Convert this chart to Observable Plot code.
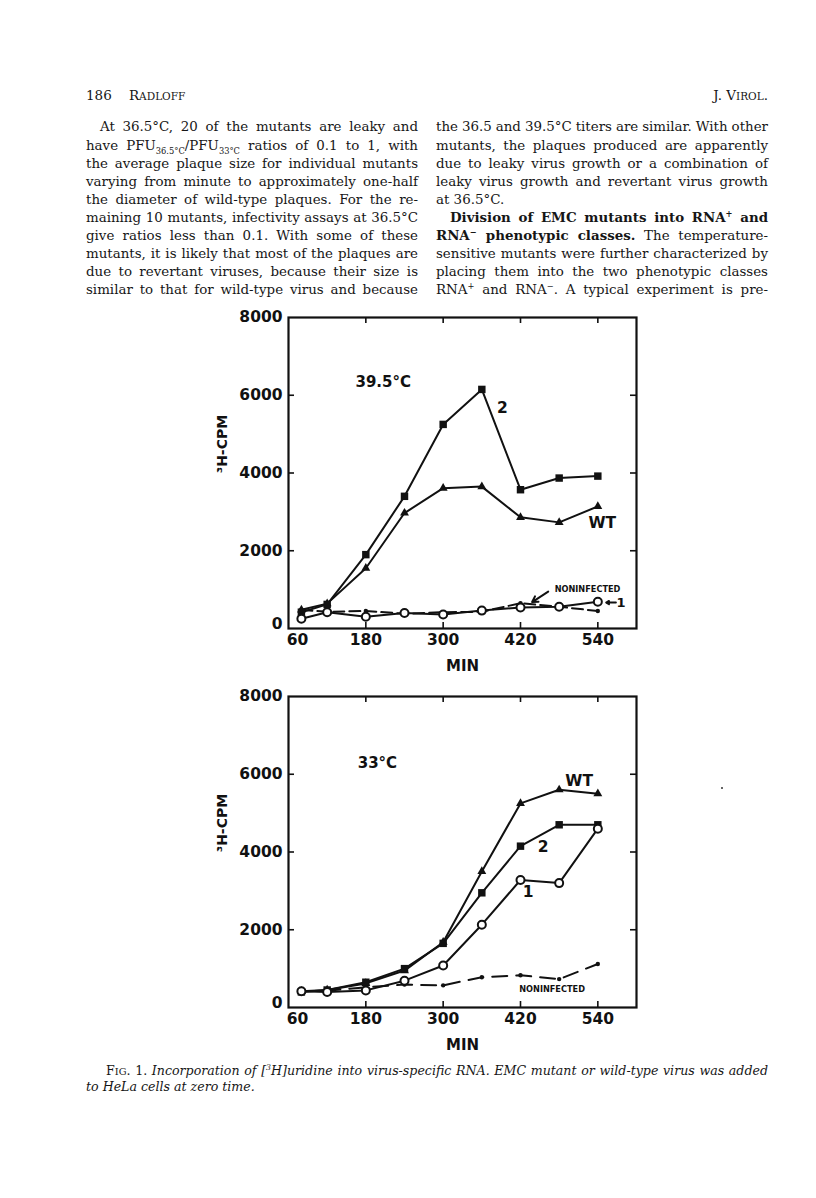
<!DOCTYPE html>
<html><head><meta charset="utf-8">
<script src="https://cdn.jsdelivr.net/npm/d3@7"></script>
<script src="https://cdn.jsdelivr.net/npm/@observablehq/plot@0.6"></script>
<style>
body{margin:0;background:#fff;}
#page{position:relative;width:816px;height:1198px;overflow:hidden;font-family:"DejaVu Serif",serif;color:#161616;}
.ln{position:absolute;white-space:nowrap;line-height:1;}
.ln sub,.ln sup{font-size:62%;line-height:0;}
.sc{font-size:78%;}
.chart{position:absolute;}
</style></head><body><div id="page"></div>
<script>
// ---------- data ----------
const times = [80, 120, 180, 240, 300, 360, 420, 480, 540];
const xTicks = [60, 180, 300, 420, 540];
const yTicks = [0, 2000, 4000, 6000, 8000];
const innerXTicks = [180, 300, 420, 540];
const innerYTicks = [2000, 4000, 6000];

// 39.5 °C panel
const hot_m2  = [420, 620, 1900, 3400, 5250, 6150, 3570, 3870, 3920];
const hot_wt  = [480, 640, 1550, 2970, 3610, 3650, 2860, 2730, 3140];
const hot_m1  = [250, 420, 300, 400, 360, 460, 540, 560, 690];
const hot_non = [480, 430, 450, 380, 420, 430, 650, 560, 450];

// 33 °C panel
const cold_wt  = [420, 450, 620, 950, 1680, 3500, 5250, 5600, 5500];
const cold_m2  = [400, 450, 650, 1000, 1650, 2950, 4150, 4700, 4700];
const cold_m1  = [420, 400, 440, 690, 1080, 2130, 3280, 3200, 4600];
const cold_non = [420, 430, 520, 590, 570, 780, 830, 730, 1120];

const hotLabels = [
  {x: 207, y: 6333, text: "39.5°C", size: 15},
  {x: 392, y: 5667, text: "2", size: 15.5},
  {x: 547, y: 2718, text: "WT", size: 15.5},
  {x: 524, y: 1000, text: "NONINFECTED", size: 8.2},
  {x: 576, y: 667, text: "1", size: 13}
];
const hotArrows = [
  {x1: 463, y1: 949, x2: 438, y2: 680},
  {x1: 568, y1: 667, x2: 553, y2: 667}
];
const coldLabels = [
  {x: 198, y: 6297, text: "33°C", size: 15},
  {x: 511, y: 5832, text: "WT", size: 15.5},
  {x: 455, y: 4129, text: "2", size: 15.5},
  {x: 432, y: 2968, text: "1", size: 15.5},
  {x: 469, y: 465, text: "NONINFECTED", size: 8.2}
];

const leftLines = [
  "At 36.5°C, 20 of the mutants are leaky and",
  "have PFU<sub>36.5°C</sub>/PFU<sub>33°C</sub> ratios of 0.1 to 1, with",
  "the average plaque size for individual mutants",
  "varying from minute to approximately one-half",
  "the diameter of wild-type plaques. For the re-",
  "maining 10 mutants, infectivity assays at 36.5°C",
  "give ratios less than 0.1. With some of these",
  "mutants, it is likely that most of the plaques are",
  "due to revertant viruses, because their size is",
  "similar to that for wild-type virus and because"
];
const rightLines = [
  "the 36.5 and 39.5°C titers are similar. With other",
  "mutants, the plaques produced are apparently",
  "due to leaky virus growth or a combination of",
  "leaky virus growth and revertant virus growth",
  "at 36.5°C.",
  "<b>Division of EMC mutants into RNA<sup>+</sup> and</b>",
  "<b>RNA<sup>−</sup> phenotypic classes.</b> The temperature-",
  "sensitive mutants were further characterized by",
  "placing them into the two phenotypic classes",
  "RNA<sup>+</sup> and RNA<sup>−</sup>. A typical experiment is pre-"
];
const captionLines = [
  'F<span class="sc">IG</span>. 1. <i>Incorporation of [<sup>3</sup>H]uridine into virus-specific RNA. EMC mutant or wild-type virus was added</i>',
  '<i>to HeLa cells at zero time.</i>'
];

// ---------- page text ----------
const page = document.getElementById("page");
function addLine(html, left, baseline, size, width, opts = {}) {
  const d = document.createElement("div");
  d.className = "ln";
  d.innerHTML = html;
  d.style.fontSize = size + "px";
  d.style.left = left + "px";
  d.style.top = (baseline - 0.86 * size) + "px";
  if (opts.weight) d.style.fontWeight = opts.weight;
  page.appendChild(d);
  if (width) {
    const w = d.getBoundingClientRect().width;
    const n = (d.textContent.match(/ /g) || []).length;
    if (n > 0) d.style.wordSpacing = ((width - w) / n) + "px";
  }
  return d;
}
function addRight(html, right, baseline, size) {
  const d = addLine(html, 0, baseline, size, 0);
  const w = d.getBoundingClientRect().width;
  d.style.left = (right - w) + "px";
}
addLine('186&nbsp;&nbsp;&nbsp;&nbsp;R<span class="sc">ADLOFF</span>', 86, 101, 13.5, 0);
addRight('J. V<span class="sc">IROL</span>.', 768, 101, 13.5);

const colL = 86, colR = 436, colW = 332, indent = 14, bodySize = 13.4, lead = 18.1, firstBase = 132;
leftLines.forEach((t, i) => {
  const ind = i === 0 ? indent : 0;
  addLine(t, colL + ind, firstBase + i * lead, bodySize, colW - ind);
});
rightLines.forEach((t, i) => {
  const ind = i === 5 ? indent : 0;
  const just = i === 4 ? 0 : colW - ind;
  addLine(t, colR + ind, firstBase + i * lead, bodySize, just);
});
addLine(captionLines[0], 106, 1076, 12.6, 768 - 106);
addLine(captionLines[1], 86, 1092, 12.6, 0);

// speck on the scan
const speck = document.createElement("div");
speck.style.cssText = "position:absolute;left:721px;top:787px;width:2px;height:2px;background:#333;border-radius:1px";
page.appendChild(speck);

// ---------- charts ----------
const W = 348, H = 311, ML = 108, MR = 20, MT = 20, MB = 60;
function rowsOf(vals) { return times.map((t, i) => ({t, v: vals[i]})); }

function panel(series, labels, arrows) {
  const marks = [
    Plot.frame({strokeWidth: 2.2, stroke: "#111"}),
    Plot.axisX(xTicks.slice(0, 1), {tickSize: 0, tickPadding: 5, label: null, fontSize: 15.5, tickFormat: "d", dx: 9}),
    Plot.axisX(xTicks.slice(1), {tickSize: 0, tickPadding: 5, label: null, fontSize: 15.5, tickFormat: "d"}),
    Plot.axisY(yTicks.slice(0, 1), {tickSize: 0, tickPadding: 6, label: null, fontSize: 15.5, tickFormat: "d", dy: -4}),
    Plot.axisY(yTicks.slice(1), {tickSize: 0, tickPadding: 6, label: null, fontSize: 15.5, tickFormat: "d"}),
    Plot.ruleX(innerXTicks, {insetTop: H - 6, strokeWidth: 1.6}),
    Plot.ruleX(innerXTicks, {insetBottom: H - 6, strokeWidth: 1.6}),
    Plot.ruleY(innerYTicks, {insetRight: W - 6, strokeWidth: 1.6}),
    Plot.ruleY(innerYTicks, {insetLeft: W - 6, strokeWidth: 1.6}),
    Plot.text(["³H-CPM"], {frameAnchor: "left", rotate: -90, dx: -66, fontSize: 14, fontWeight: "bold"}),
    Plot.text(["MIN"], {frameAnchor: "bottom", dy: 42, fontSize: 15, fontWeight: "bold"})
  ];
  // noninfected
  marks.push(Plot.line(rowsOf(series.non), {x: "t", y: "v", stroke: "#111", strokeWidth: 2, strokeDasharray: series.dash}));
  marks.push(Plot.dot(rowsOf(series.non), {x: "t", y: "v", r: 2.2, fill: "#111"}));
  // mutant 1 (open circles)
  marks.push(Plot.line(rowsOf(series.m1), {x: "t", y: "v", stroke: "#111", strokeWidth: 2}));
  // WT (triangles)
  marks.push(Plot.line(rowsOf(series.wt), {x: "t", y: "v", stroke: "#111", strokeWidth: 2}));
  // mutant 2 (squares)
  marks.push(Plot.line(rowsOf(series.m2), {x: "t", y: "v", stroke: "#111", strokeWidth: 2}));
  marks.push(Plot.dot(rowsOf(series.wt), {x: "t", y: "v", symbol: "triangle", r: 3.3, fill: "#111"}));
  marks.push(Plot.dot(rowsOf(series.m2), {x: "t", y: "v", symbol: "square", r: 4.2, fill: "#111"}));
  marks.push(Plot.dot(rowsOf(series.m1), {x: "t", y: "v", symbol: "circle", r: 4, fill: "#fff", stroke: "#111", strokeWidth: 2}));
  marks.push(Plot.text(labels, {x: "x", y: "y", text: "text", fontSize: "size", fontWeight: "bold"}));
  if (arrows) marks.push(Plot.arrow(arrows, {x1: "x1", y1: "y1", x2: "x2", y2: "y2", strokeWidth: 2, headLength: 6, stroke: "#111"}));
  return Plot.plot({
    width: ML + W + MR, height: MT + H + MB,
    marginLeft: ML, marginRight: MR, marginTop: MT, marginBottom: MB,
    x: {domain: [60, 600]}, y: {domain: [0, 8000]},
    style: {fontFamily: "'DejaVu Sans', sans-serif", fontWeight: "bold", color: "#111", background: "transparent", overflow: "visible"},
    marks
  });
}

function place(svg, left, top) {
  const d = document.createElement("div");
  d.className = "chart";
  d.style.left = left + "px";
  d.style.top = top + "px";
  d.appendChild(svg);
  page.appendChild(d);
}
place(panel({m2: hot_m2, wt: hot_wt, m1: hot_m1, non: hot_non, dash: "11,5"}, hotLabels, hotArrows), 288 - ML, 317 - MT);
place(panel({m2: cold_m2, wt: cold_wt, m1: cold_m1, non: cold_non, dash: "15,9"}, coldLabels, null), 288 - ML, 696 - MT);
</script></body></html>
